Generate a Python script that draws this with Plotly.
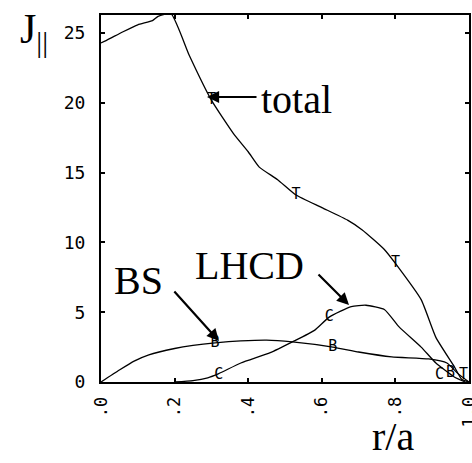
import plotly.graph_objects as go

# ---- data ----
total_x = [0.0, 0.016, 0.06, 0.10, 0.14, 0.155, 0.19, 0.24, 0.30, 0.36, 0.40, 0.43, 0.48, 0.53, 0.60, 0.67, 0.71, 0.77, 0.80, 0.87, 0.91, 0.96, 0.98, 1.0]
total_y = [24.3, 24.5, 25.1, 25.6, 25.9, 26.2, 26.4, 23.4, 20.2, 17.8, 16.5, 15.4, 14.5, 13.4, 12.5, 11.6, 10.9, 9.5, 8.5, 5.9, 3.2, 1.1, 0.2, 0.0]

bs_x = [0.0, 0.05, 0.09, 0.13, 0.20, 0.25, 0.31, 0.38, 0.45, 0.52, 0.63, 0.70, 0.79, 0.89, 0.94, 0.97, 1.0]
bs_y = [0.0, 0.86, 1.5, 1.95, 2.4, 2.62, 2.8, 2.94, 3.0, 2.87, 2.5, 2.15, 1.8, 1.65, 1.36, 0.6, 0.0]

lhcd_x = [0.20, 0.25, 0.29, 0.32, 0.38, 0.46, 0.52, 0.58, 0.62, 0.68, 0.72, 0.77, 0.81, 0.87, 0.91, 0.96, 0.99]
lhcd_y = [0.0, 0.1, 0.3, 0.6, 1.36, 2.1, 2.87, 3.7, 4.65, 5.4, 5.5, 5.2, 3.95, 2.5, 1.36, 0.36, 0.0]

total_mx = [0.30, 0.53, 0.80, 0.985]
total_my = [20.2, 13.4, 8.5, 0.5]
bs_mx = [0.31, 0.63, 0.95]
bs_my = [2.8, 2.5, 0.6]
lhcd_mx = [0.32, 0.62, 0.92]
lhcd_my = [0.5, 4.65, 0.5]

x_ticks = [0.0, 0.2, 0.4, 0.6, 0.8, 1.0]
x_ticklabels = [".0", ".2", ".4", ".6", ".8", "1.0"]
y_ticks = [0, 5, 10, 15, 20, 25]
y_ticklabels = ["0", "5", "10", "15", "20", "25"]

fig = go.Figure()
line_style = dict(color="black", width=1.3, shape="spline", smoothing=0.5)
for xs, ys in [(total_x, total_y), (bs_x, bs_y), (lhcd_x, lhcd_y)]:
    fig.add_trace(go.Scatter(x=xs, y=ys, mode="lines", line=line_style, showlegend=False))

mfont = dict(family="DejaVu Sans Mono", size=15, color="black")
for xs, ys, ch in [(total_mx, total_my, "T"), (bs_mx, bs_my, "B"), (lhcd_mx, lhcd_my, "C")]:
    fig.add_trace(go.Scatter(x=xs, y=ys, mode="text", text=[ch] * len(xs),
                             textfont=mfont, textposition="middle center", showlegend=False))

serif = dict(family="Liberation Serif", size=40, color="black")
axis_common = dict(showgrid=False, zeroline=False, showline=True, linecolor="black", linewidth=2,
                   mirror="allticks", ticks="inside", ticklen=4, tickwidth=1.5, tickcolor="black",
                   automargin=False)
fig.update_layout(
    width=472, height=463,
    margin=dict(l=101, r=3, t=15, b=81),
    paper_bgcolor="white", plot_bgcolor="white",
    xaxis=dict(range=[0, 1], tickvals=x_ticks, ticktext=x_ticklabels, tickangle=-90,
               ticklabelstandoff=6, ticklabeloverflow="allow",
               tickfont=dict(family="DejaVu Sans Mono", size=17, color="black"), **axis_common),
    yaxis=dict(range=[0, 26.3], tickvals=y_ticks, ticktext=y_ticklabels,
               ticklabelstandoff=10,
               tickfont=dict(family="DejaVu Sans Mono", size=18, color="black"), **axis_common),
)


def px2paper(px, py):
    return (px - 101) / 368, (382 - py) / 367


def add_text(txt, px, py, font):
    x, y = px2paper(px, py)
    fig.add_annotation(text=txt, xref="paper", yref="paper", x=x, y=y, showarrow=False,
                       font=font, xanchor="center", yanchor="middle")


def add_arrow(tip, tail):
    x, y = px2paper(*tip)
    fig.add_annotation(text="", xref="paper", yref="paper", x=x, y=y,
                       ax=tail[0] - tip[0], ay=tail[1] - tip[1], showarrow=True,
                       arrowhead=2, arrowsize=1.1, arrowwidth=2.2, arrowcolor="black", standoff=0)


add_text("total", 296, 100, serif)
add_text("BS", 138, 280, serif)
add_text("LHCD", 249, 265, serif)
add_text("r/a", 393, 436, serif)
add_text("J<sub>||</sub>", 34, 32, dict(family="Liberation Serif", size=42, color="black"))

add_arrow((207, 97), (258, 97))
add_arrow((219, 341), (173, 290))
add_arrow((349, 305), (317, 273))

fig.write_html("out.html")
